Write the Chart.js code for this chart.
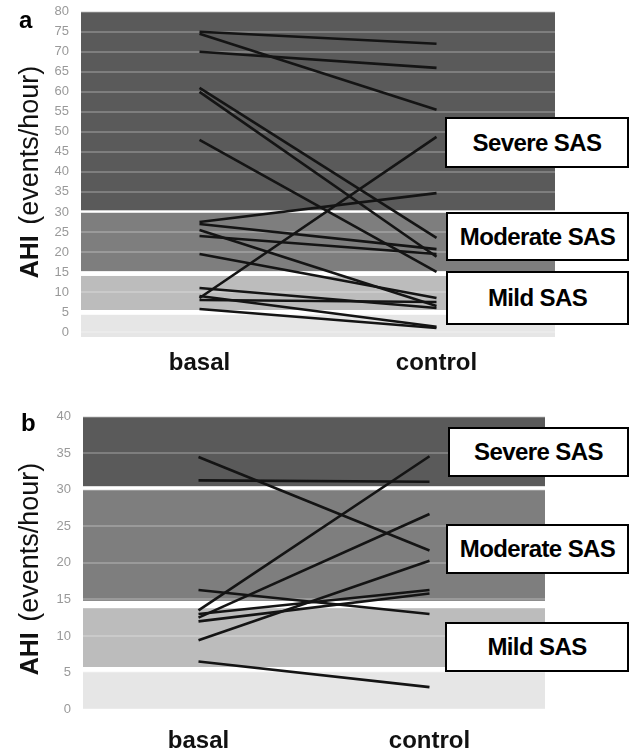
<!DOCTYPE html>
<html>
<head>
<meta charset="utf-8">
<script src="https://cdn.jsdelivr.net/npm/chart.js@4.4.1/dist/chart.umd.min.js"></script>
<style>
  html, body { margin: 0; padding: 0; background: #fff; width: 631px; height: 752px; overflow: hidden; }
  body { position: relative; font-family: Arial, "Liberation Sans", sans-serif; }
  canvas { position: absolute; left: 0; }
  #cA { top: -8px; }
  #cB { top: 397px; }
  .panel { position: absolute; font-weight: bold; font-size: 24px; line-height: 24px; color: #000; }
  .ytitle { position: absolute; width: 240px; height: 30px; line-height: 30px; text-align: center; white-space: nowrap; transform: rotate(-90deg); color: #111; }
  .ytitle .b { font-weight: bold; font-size: 25px; margin-right: 6px; }
  .ytitle .n { font-size: 27px; }
  .box { position: absolute; box-sizing: border-box; border: 2px solid #000; background: #fff; font-weight: bold; font-size: 24px; letter-spacing: -0.6px; text-align: center; color: #000; display: flex; align-items: center; justify-content: center; }
</style>
</head>
<body>
<canvas id="cA" width="631" height="388"></canvas>
<canvas id="cB" width="631" height="355"></canvas>

<div class="panel" style="left:19px; top:8px;">a</div>
<div class="panel" style="left:21px; top:411px;">b</div>

<div class="ytitle" style="left:-91px; top:157px;"><span class="b">AHI</span> <span class="n">(events/hour)</span></div>
<div class="ytitle" style="left:-91px; top:554px;"><span class="b">AHI</span> <span class="n">(events/hour)</span></div>

<div class="box" style="left:445px; top:117px; width:184px; height:51px;">Severe SAS</div>
<div class="box" style="left:446px; top:212px; width:183px; height:49px;">Moderate SAS</div>
<div class="box" style="left:446px; top:271px; width:183px; height:54px;">Mild SAS</div>

<div class="box" style="left:448px; top:427px; width:181px; height:50px;">Severe SAS</div>
<div class="box" style="left:446px; top:524px; width:183px; height:50px;">Moderate SAS</div>
<div class="box" style="left:445px; top:622px; width:184px; height:50px;">Mild SAS</div>

<script>
// ---- data ----
const categories = ['basal', 'control'];

// panel a: AHI (events/hour) per subject, basal vs control
const basalA   = [75, 74.5, 70, 61, 60, 48, 27.5, 27, 25.5, 24, 19.5, 11, 9, 8.5, 8, 5.75];
const controlA = [72, 55.5, 66, 23.5, 18.8, 15, 34.7, 20.7, 6.5, 19.5, 8.5, 6, 1.3, 48.75, 7.5, 1];
const yTicksA  = [0, 5, 10, 15, 20, 25, 30, 35, 40, 45, 50, 55, 60, 65, 70, 75, 80];
// severity bands (severe, moderate, mild, normal)
const bandLowA  = [30.4, 15.2, 5.5, -1.25];
const bandHighA = [80, 29.8, 14, 4.3];

// panel b
const basalB   = [34.5, 31.3, 16.3, 13.5, 13, 12.5, 12, 9.4, 6.5];
const controlB = [21.7, 31.1, 13, 34.6, 16.3, 26.7, 15.8, 20.3, 3.0];
const yTicksB  = [0, 5, 10, 15, 20, 25, 30, 35, 40];
const bandLowB  = [30.5, 14.8, 5.75, 0];
const bandHighB = [40, 30, 13.8, 5.1];

// ---- styles ----
const bandColors = ['#5a5a5a', '#7e7e7e', '#bcbcbc', '#e6e6e6'];

const bandPlugin = {
  id: 'bands',
  beforeDraw(chart, args, opts) {
    const { ctx, chartArea, scales } = chart;
    const y = scales.y;
    ctx.save();
    opts.low.forEach((lo, i) => {
      const hi = opts.high[i];
      const top = y.getPixelForValue(hi);
      const bot = y.getPixelForValue(lo);
      ctx.fillStyle = bandColors[i];
      ctx.fillRect(chartArea.left, top, chartArea.right - chartArea.left, bot - top);
    });
    ctx.restore();
  }
};

function makeChart(id, basal, control, ticks, yMin, yMax, low, high, yWidth, padRight, padTop, xHeight, xPad) {
  const datasets = basal.map((b, i) => ({
    data: [b, control[i]],
    borderColor: '#141414',
    borderWidth: 2.6,
    pointRadius: 0,
    tension: 0,
    fill: false
  }));
  return new Chart(document.getElementById(id), {
    type: 'line',
    data: { labels: categories, datasets },
    plugins: [bandPlugin],
    options: {
      responsive: false,
      animation: false,
      devicePixelRatio: 1,
      layout: { padding: { left: 0, right: padRight, top: padTop, bottom: 0 } },
      plugins: {
        legend: { display: false },
        tooltip: { enabled: false },
        bands: { low, high }
      },
      scales: {
        x: {
          type: 'category',
          offset: true,
          grid: { display: false, drawTicks: false },
          border: { display: false },
          ticks: { color: '#111', font: { family: 'Arial', size: 24, weight: 'bold' }, padding: xPad },
          afterFit(s) { s.height = xHeight; }
        },
        y: {
          min: yMin,
          max: yMax,
          grid: { color: 'rgba(255,255,255,0.22)', lineWidth: 2, drawTicks: false },
          border: { display: false },
          ticks: { color: '#999', font: { family: 'Arial', size: 13 }, padding: 12 },
          afterBuildTicks(s) { s.ticks = ticks.map(v => ({ value: v })); },
          afterFit(s) { s.width = yWidth; }
        }
      }
    }
  });
}

makeChart('cA', basalA, controlA, yTicksA, -1.25, 80, bandLowA, bandHighA, 81, 76, 0, 43, 12);
makeChart('cB', basalB, controlB, yTicksB, 0, 40, bandLowB, bandHighB, 83, 86, 0, 43, 18);
</script>
</body>
</html>
